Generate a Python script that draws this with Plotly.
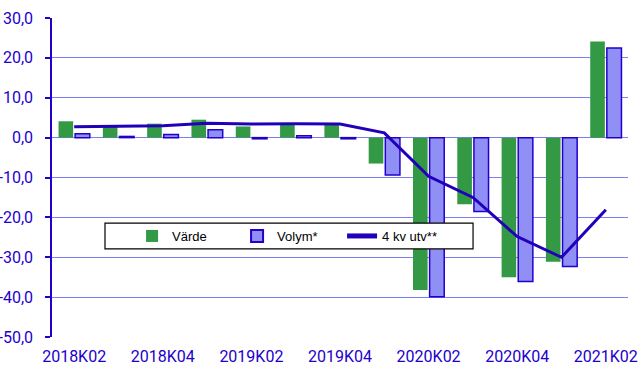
import plotly.graph_objects as go

quarters = ["2018K02", "2018K03", "2018K04", "2019K01", "2019K02", "2019K03", "2019K04",
            "2020K01", "2020K02", "2020K03", "2020K04", "2021K01", "2021K02"]
varde = [4.1, 3.0, 3.5, 4.5, 2.8, 3.3, 3.4, -6.5, -38.2, -16.7, -35.0, -31.1, 24.1]
volym = [1.0, 0.3, 0.8, 2.0, -0.3, 0.5, -0.3, -9.4, -39.9, -18.5, -36.1, -32.3, 22.5]
utv4kv = [2.7, 2.9, 3.0, 3.6, 3.4, 3.5, 3.4, 1.2, -9.7, -15.0, -24.8, -30.0, -18.1]
tick_labels = quarters[::2]
yticks = [-50, -40, -30, -20, -10, 0, 10, 20, 30]
ytick_labels = ["-50,0", "-40,0", "-30,0", "-20,0", "-10,0", "0,0", "10,0", "20,0", "30,0"]

AXIS = "#2200cc"
GRID = "#7c7cf4"
TICKFONT = "Roboto, Liberation Sans, Arial, sans-serif"
FONT = "Liberation Sans, Arial, sans-serif"

fig = go.Figure()
fig.add_trace(go.Bar(x=quarters, y=varde, name="Värde",
                     marker=dict(color="#339944", line=dict(width=0))))
fig.add_trace(go.Bar(x=quarters, y=volym, name="Volym*",
                     marker=dict(color="#8f8ff5", line=dict(color=AXIS, width=1.5))))
fig.add_trace(go.Scatter(x=quarters, y=utv4kv, name="4 kv utv**", mode="lines",
                         line=dict(color="#2200bb", width=3)))

# legend box
fig.add_shape(type="rect", xref="paper", yref="paper",
              x0=0.092, x1=0.731, y0=0.276, y1=0.357,
              line=dict(color="black", width=1.2), fillcolor="white", layer="above")

fig.update_layout(
    width=644, height=386,
    margin=dict(l=52, r=16, t=18, b=49),
    paper_bgcolor="white", plot_bgcolor="white",
    barmode="group", bargap=0.25, bargroupgap=0.12,
    font=dict(family=FONT),
    showlegend=True,
    legend=dict(orientation="h", x=0.139, y=0.3166, xanchor="left", yanchor="middle",
                bgcolor="rgba(0,0,0,0)", borderwidth=0,
                font=dict(size=13, color="black", family=FONT),
                entrywidth=60, entrywidthmode="pixels",
                tracegroupgap=0, itemsizing="constant"),
    xaxis=dict(type="category", categoryorder="array", categoryarray=quarters,
               tickvals=tick_labels, ticktext=tick_labels, automargin=False,
               showline=False, showgrid=False, zeroline=False, ticks="",
               ticklabelstandoff=8,
               tickfont=dict(size=16, color=AXIS, family=TICKFONT),
               range=[-0.5, 12.5]),
    xaxis2=dict(overlaying="x", anchor="free", position=0.625, side="top",
                range=[-0.5, 12.5], tickvals=[1.5, 3.5, 5.5, 7.5, 9.5, 11.5],
                showticklabels=False, ticks="outside", ticklen=5, tickwidth=1.5,
                tickcolor=AXIS, showline=True, linecolor=AXIS, linewidth=1.5,
                showgrid=False, zeroline=False, automargin=False),
    yaxis=dict(range=[-50, 30], tickvals=yticks, ticktext=ytick_labels, automargin=False,
               showgrid=True, gridcolor=GRID, gridwidth=1, zeroline=False,
               showline=True, linecolor=AXIS, linewidth=1.5,
               ticks="outside", ticklen=5, tickwidth=1.5, tickcolor=AXIS,
               ticklabelstandoff=9,
               tickfont=dict(size=16, color=AXIS, family=TICKFONT)),
)

fig.write_html("out.html", config={"displayModeBar": False},
               post_script="document.body.style.margin='0';")
